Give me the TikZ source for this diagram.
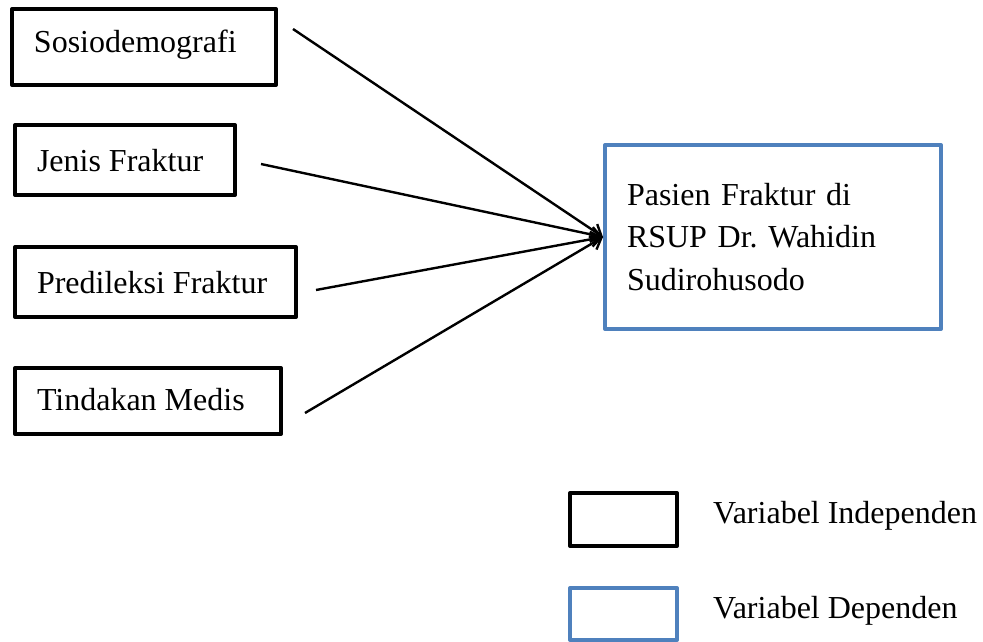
\documentclass[tikz,border=0pt]{standalone}
\usepackage{fontspec}
\setmainfont{Liberation Serif}
\usetikzlibrary{arrows.meta}
\definecolor{depblue}{RGB}{79,129,189}
\newcommand{\leftbx}[2]{\makebox[#1][l]{#2}}
\begin{document}
\frenchspacing
\begin{tikzpicture}[x=1pt,y=-1pt,
  txt/.style={font=\fontsize{32}{42.5}\selectfont},
  indep/.style={txt,draw=black,line width=4pt,line join=round,rectangle,
    inner xsep=22pt,inner ysep=0pt,
    text height=25pt,text depth=3pt},
  dep/.style={txt,draw=depblue,line width=4pt,line join=round,rectangle,
    inner xsep=22pt,inner ysep=0pt,align=left},
  legbox/.style={line width=4pt,line join=round,rectangle,minimum width=107pt,inner sep=0pt},
  conn/.style={line width=2.4pt,-{Straight Barb[length=10pt,width=15pt,line width=2.4pt]}}
]
\useasboundingbox (0,0) rectangle (983,642);

% independent variable boxes
\node[indep,text depth=13pt,minimum height=76pt] (sosio) at (144,47) {\leftbx{220pt}{Sosiodemografi}};
\node[indep,minimum height=70pt] (jenis) at (125,160) {\leftbx{176pt}{Jenis Fraktur}};
\node[indep,text depth=2pt,minimum height=70pt] (predi) at (155.5,282) {\leftbx{237pt}{Predileksi Fraktur}};
\node[indep,text depth=7pt,minimum height=66pt] (tinda) at (148,401) {\leftbx{222pt}{Tindakan Medis}};

% dependent variable box
\node[dep,text width=292pt,minimum height=184pt] (pasien) at (773,237)
  {Pasien Fraktur di\\RSUP Dr. Wahidin\\Sudirohusodo};

% connector start points
\coordinate (s1) at (293,29);
\coordinate (s2) at (261,164);
\coordinate (s3) at (316,290);
\coordinate (s4) at (305,413);

\draw[conn] (s1) -- (pasien.west);
\draw[conn] (s2) -- (pasien.west);
\draw[conn] (s3) -- (pasien.west);
\draw[conn] (s4) -- (pasien.west);

% legend
\node[legbox,draw=black,minimum height=53pt] (legind) at (623.5,519.5) {};
\node[legbox,draw=depblue,minimum height=52pt] (legdep) at (623.5,614) {};
\node[txt,anchor=base west,inner sep=0pt] (legindtxt) at (713,523) {Variabel Independen};
\node[txt,anchor=base west,inner sep=0pt] (legdeptxt) at (713,618) {Variabel Dependen};
\end{tikzpicture}
\end{document}
